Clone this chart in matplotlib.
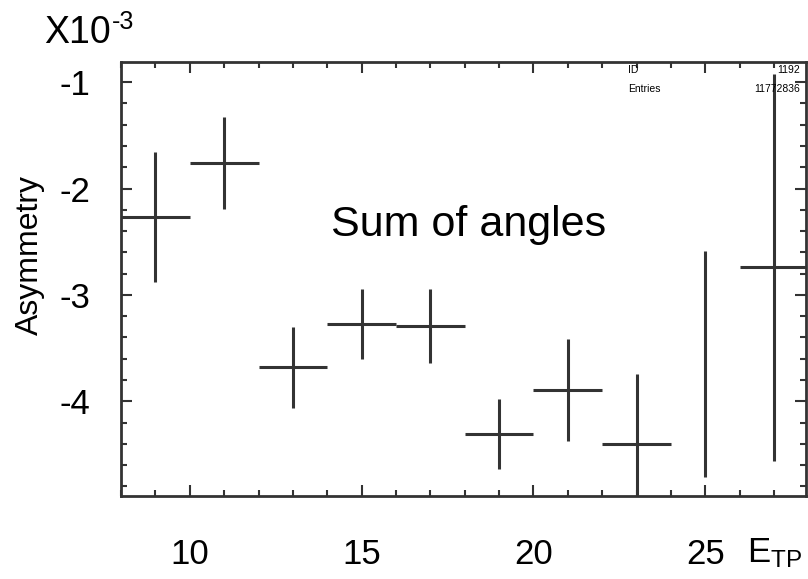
import matplotlib.pyplot as plt
from matplotlib.ticker import MultipleLocator

plt.rcParams['font.family'] = ['Liberation Sans', 'DejaVu Sans']
plt.rcParams['mathtext.default'] = 'regular'
plt.rcParams['axes.unicode_minus'] = False

# bin centres (E_TP) and asymmetry in units of 1e-3
e_tp = [9, 11, 13, 15, 17, 19, 21, 23, 25, 27]
asym = [-2.27, -1.76, -3.68, -3.27, -3.29, -4.31, -3.89, -4.40, -3.65, -2.74]
asym_err = [0.61, 0.43, 0.38, 0.33, 0.35, 0.33, 0.48, 0.66, 1.06, 1.82]
bin_half = [1, 1, 1, 1, 1, 1, 1, 1, 0, 1]

x_ticks = [10, 15, 20, 25]
y_ticks = [-1, -2, -3, -4]

col = '#333333'

fig = plt.figure(figsize=(8.08, 5.79), dpi=100)
ax = fig.add_axes([0.1498, 0.1434, 0.8477, 0.7495])

ax.errorbar(e_tp, asym, yerr=asym_err, xerr=bin_half, fmt='none',
            ecolor=col, elinewidth=2.2, capsize=0)

ax.set_xlim(8, 27.93)
ax.set_ylim(-4.89, -0.81)
ax.set_xticks(x_ticks)
ax.set_yticks(y_ticks)
ax.xaxis.set_minor_locator(MultipleLocator(1))
ax.yaxis.set_minor_locator(MultipleLocator(0.2))
ax.tick_params(which='both', direction='in', top=True, right=True,
               color=col, width=1.5, labelsize=25)
ax.tick_params(which='major', length=8)
ax.tick_params(which='minor', length=4)
ax.tick_params(axis='x', pad=30)
ax.tick_params(axis='y', pad=22)
for s in ax.spines.values():
    s.set_color(col)
    s.set_linewidth(2)

ax.set_ylabel('Asymmetry', fontsize=23)
ax.yaxis.set_label_coords(-0.111, 0.555)

# axis multiplier, hyphen kept as in the original
fig.text(0.055, 0.974, 'X10', fontsize=27, va='top', ha='left')
fig.text(0.139, 0.982, '-3', fontsize=18, va='top', ha='left')
fig.text(0.925, 0.045, 'E$_{TP}$', fontsize=25, va='center', ha='left')

ax.text(0.507, 0.624, 'Sum of angles', fontsize=31, transform=ax.transAxes,
        ha='center', va='center')

# stats box remains
ax.text(0.74, 0.982, 'ID', fontsize=7.5, transform=ax.transAxes, va='center')
ax.text(0.74, 0.938, 'Entries', fontsize=7.5, transform=ax.transAxes, va='center')
ax.text(0.991, 0.982, '1192', fontsize=7.5, transform=ax.transAxes, va='center', ha='right')
ax.text(0.991, 0.938, '11772836', fontsize=7.5, transform=ax.transAxes, va='center', ha='right')

plt.savefig('out.png', dpi=100)
